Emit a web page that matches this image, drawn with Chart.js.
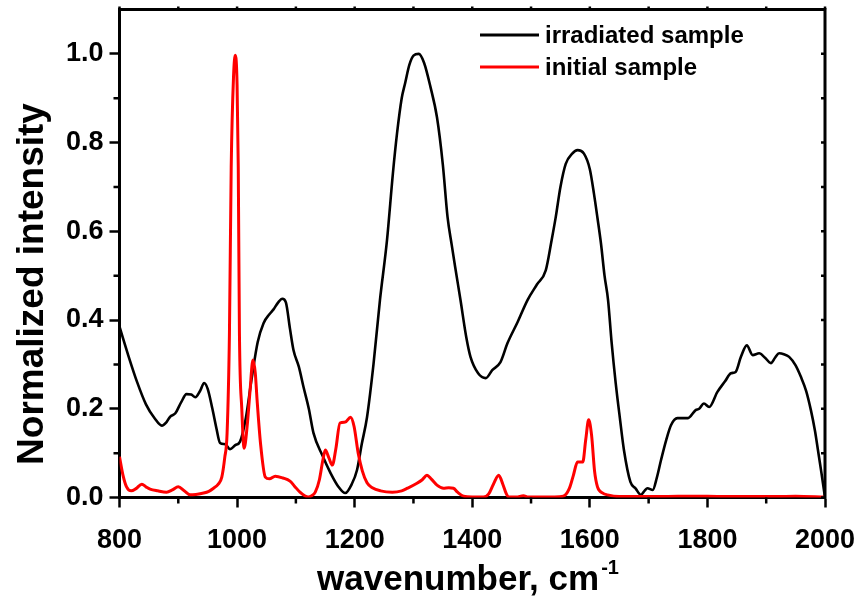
<!DOCTYPE html>
<html>
<head>
<meta charset="utf-8">
<script src="https://cdn.jsdelivr.net/npm/chart.js@4/dist/chart.umd.min.js"></script>
<style>
  html, body { margin: 0; padding: 0; background: #fff; }
  canvas { display: block; }
</style>
</head>
<body>
<canvas id="c" width="860" height="598"></canvas>
<script>
// ---- data ----
const seriesNames = ['irradiated sample', 'initial sample'];

const irradiatedX = [800,815,830,845,860,872,880,886,895,905,914,922,929,937,944,950,958,965,971,980,988,997,1005,1015,1025,1035,1045,1055,1062,1070,1077,1083,1090,1096,1105,1113,1122,1130,1145,1159,1172,1184,1195,1204,1212,1221,1232,1243,1255,1265,1272,1280,1286,1293,1300,1309,1318,1329,1340,1350,1358,1365,1371,1380,1390,1397,1410,1423,1434,1448,1460,1477,1494,1510,1525,1535,1542,1550,1559,1570,1579,1590,1600,1607,1613,1619,1625,1631,1637,1644,1651,1658,1669,1678,1687,1693,1698,1707,1714,1721,1730,1738,1749,1767,1780,1786,1794,1803,1817,1830,1840,1848,1857,1867,1877,1888,1898,1908,1915,1922,1930,1939,1950,1959,1968,1976,1983,1988,1994,2000];
const irradiatedY = [0.385,0.32,0.26,0.21,0.178,0.162,0.17,0.182,0.19,0.215,0.233,0.232,0.226,0.24,0.258,0.245,0.2,0.155,0.123,0.12,0.109,0.118,0.126,0.18,0.27,0.35,0.393,0.413,0.424,0.44,0.448,0.44,0.38,0.332,0.295,0.249,0.2,0.145,0.095,0.055,0.025,0.01,0.03,0.062,0.12,0.181,0.3,0.445,0.58,0.73,0.82,0.9,0.935,0.975,0.996,1.0,0.98,0.925,0.857,0.75,0.632,0.57,0.519,0.445,0.36,0.317,0.28,0.269,0.287,0.305,0.348,0.395,0.445,0.48,0.512,0.58,0.632,0.7,0.752,0.775,0.783,0.775,0.74,0.685,0.63,0.572,0.5,0.445,0.35,0.258,0.18,0.107,0.035,0.02,0.006,0.015,0.021,0.017,0.045,0.084,0.13,0.163,0.179,0.179,0.197,0.2,0.212,0.204,0.238,0.262,0.28,0.283,0.317,0.343,0.321,0.325,0.315,0.303,0.315,0.325,0.323,0.317,0.298,0.272,0.24,0.197,0.15,0.107,0.055,0.0];

const initialX = [800,806,812,820,828,838,845,852,865,880,890,900,910,920,930,943,952,960,968,974,979,983,987,990,994,997,1000,1002,1004,1008,1012,1017,1022,1027,1031,1034,1040,1048,1055,1065,1078,1090,1098,1107,1115,1121,1127,1133,1140,1146,1150,1156,1162,1168,1175,1184,1193,1199,1206,1213,1221,1230,1244,1264,1280,1290,1306,1315,1323,1330,1340,1351,1360,1368,1375,1385,1400,1419,1428,1436,1445,1452,1458,1462,1475,1487,1495,1520,1540,1555,1565,1572,1579,1588,1593,1598,1603,1608,1613,1622,1630,1650,1700,1750,1800,1850,1900,1950,2000];
const initialY = [0.092,0.05,0.024,0.015,0.02,0.03,0.024,0.019,0.015,0.012,0.017,0.024,0.015,0.006,0.007,0.01,0.014,0.021,0.03,0.046,0.09,0.145,0.37,0.745,0.95,0.997,0.93,0.745,0.37,0.2,0.111,0.159,0.24,0.31,0.28,0.22,0.12,0.046,0.042,0.048,0.044,0.037,0.025,0.012,0.004,0.001,0.004,0.012,0.04,0.085,0.107,0.09,0.073,0.11,0.168,0.17,0.181,0.16,0.1,0.06,0.033,0.022,0.015,0.012,0.015,0.021,0.032,0.04,0.05,0.042,0.028,0.021,0.022,0.021,0.012,0.003,0.001,0.001,0.008,0.03,0.05,0.03,0.008,0.001,0.001,0.004,0.001,0.001,0.001,0.003,0.02,0.05,0.08,0.08,0.13,0.175,0.14,0.06,0.024,0.01,0.006,0.002,0.002,0.003,0.003,0.002,0.002,0.003,0.001];

const xTickLabels = [800,1000,1200,1400,1600,1800,2000];
const yTickLabels = [0.0,0.2,0.4,0.6,0.8,1.0];
const xMinorTicks = [900,1100,1300,1500,1700,1900];
const yMinorTicks = [0.1,0.3,0.5,0.7,0.9];
const xTitle = 'wavenumber, cm';
const xTitleSup = '-1';
const yTitle = 'Normalized intensity';

// ---- chart ----
const FONT = '"Liberation Sans", Arial, Helvetica, sans-serif';
const toPts = (xs, ys) => xs.map((v, i) => ({x: v, y: ys[i]}));

const decor = {
  id: 'decor',
  afterDraw(chart) {
    const {ctx, chartArea: a, scales: {x, y}} = chart;
    ctx.save();
    ctx.strokeStyle = '#000';
    ctx.lineCap = 'butt';
    // top & right frame
    ctx.lineWidth = 3;
    ctx.beginPath();
    ctx.moveTo(a.left - 1.5, a.top);
    ctx.lineTo(a.right, a.top);
    ctx.lineTo(a.right, a.bottom + 1.5);
    ctx.stroke();
    ctx.lineWidth = 2.5;
    ctx.beginPath();
    // bottom minor ticks
    xMinorTicks.forEach(v => { const p = x.getPixelForValue(v); ctx.moveTo(p, a.bottom); ctx.lineTo(p, a.bottom + 6); });
    // left minor ticks
    yMinorTicks.forEach(v => { const p = y.getPixelForValue(v); ctx.moveTo(a.left, p); ctx.lineTo(a.left - 6, p); });
    // top ticks
    xTickLabels.concat(xMinorTicks).forEach(v => { const p = x.getPixelForValue(v); ctx.moveTo(p, a.top); ctx.lineTo(p, a.top - 3); });
    // right ticks
    yTickLabels.concat(yMinorTicks).forEach(v => { const p = y.getPixelForValue(v); ctx.moveTo(a.right, p); ctx.lineTo(a.right - 4, p); });
    ctx.stroke();

    // legend
    const ds = chart.data.datasets;
    const legendOrder = [1, 0];
    legendOrder.forEach((di, k) => {
      const yy = 35 + k * 32;
      ctx.strokeStyle = ds[di].borderColor;
      ctx.lineWidth = 3;
      ctx.beginPath();
      ctx.moveTo(480, yy); ctx.lineTo(539, yy);
      ctx.stroke();
      ctx.fillStyle = '#000';
      ctx.font = 'bold 24px ' + FONT;
      ctx.textAlign = 'left';
      ctx.textBaseline = 'middle';
      ctx.fillText(ds[di].label, 545, yy + 1);
    });

    // y title
    ctx.save();
    ctx.translate(33, 284);
    ctx.rotate(-Math.PI / 2);
    ctx.font = 'bold 37px ' + FONT;
    ctx.textAlign = 'center';
    ctx.textBaseline = 'middle';
    ctx.fillStyle = '#000';
    ctx.fillText(yTitle, 0, 0);
    ctx.restore();

    // x title
    ctx.fillStyle = '#000';
    ctx.textBaseline = 'alphabetic';
    ctx.textAlign = 'left';
    ctx.font = 'bold 35px ' + FONT;
    const w1 = ctx.measureText(xTitle).width;
    ctx.font = 'bold 20px ' + FONT;
    const w2 = ctx.measureText(xTitleSup).width;
    const startX = 468 - (w1 + w2 + 2) / 2;
    ctx.font = 'bold 35px ' + FONT;
    ctx.fillText(xTitle, startX, 590);
    ctx.font = 'bold 20px ' + FONT;
    ctx.fillText(xTitleSup, startX + w1 + 2, 574);
    ctx.restore();
  }
};

new Chart(document.getElementById('c'), {
  type: 'line',
  data: {
    datasets: [
      {
        label: seriesNames[1],
        data: toPts(initialX, initialY),
        borderColor: '#ff0000',
        borderWidth: 3,
        pointRadius: 0,
        fill: false,
        cubicInterpolationMode: 'monotone',
        order: 0
      },
      {
        label: seriesNames[0],
        data: toPts(irradiatedX, irradiatedY),
        borderColor: '#000000',
        borderWidth: 2.6,
        pointRadius: 0,
        fill: false,
        cubicInterpolationMode: 'monotone',
        order: 1
      }
    ]
  },
  options: {
    responsive: false,
    animation: false,
    events: [],
    layout: { padding: { left: 0, top: 9.5, right: 35, bottom: 0 } },
    plugins: { legend: { display: false }, tooltip: { enabled: false } },
    scales: {
      x: {
        type: 'linear',
        min: 800, max: 2000,
        afterBuildTicks: s => { s.ticks = xTickLabels.map(v => ({value: v})); },
        afterFit: s => { s.height = 100.5; s.paddingLeft = 0; s.paddingRight = 0; },
        border: { display: true, color: '#000', width: 3 },
        grid: { display: true, drawOnChartArea: false, drawTicks: true, tickLength: 10, tickWidth: 2.5, tickColor: '#000' },
        ticks: {
          color: '#000', padding: 17, maxRotation: 0, autoSkip: false,
          font: { family: FONT, size: 27, weight: 'bold' },
          callback: v => String(v)
        }
      },
      y: {
        type: 'linear',
        min: 0, max: 1.1,
        afterBuildTicks: s => { s.ticks = yTickLabels.map(v => ({value: v})); },
        afterFit: s => { s.width = 119.5; s.paddingTop = 0; s.paddingBottom = 0; },
        border: { display: true, color: '#000', width: 3 },
        grid: { display: true, drawOnChartArea: false, drawTicks: true, tickLength: 10, tickWidth: 2.5, tickColor: '#000' },
        ticks: {
          color: '#000', padding: 6, autoSkip: false,
          font: { family: FONT, size: 27, weight: 'bold' },
          callback: v => Number(v).toFixed(1)
        }
      }
    }
  },
  plugins: [decor]
});
</script>
</body>
</html>
